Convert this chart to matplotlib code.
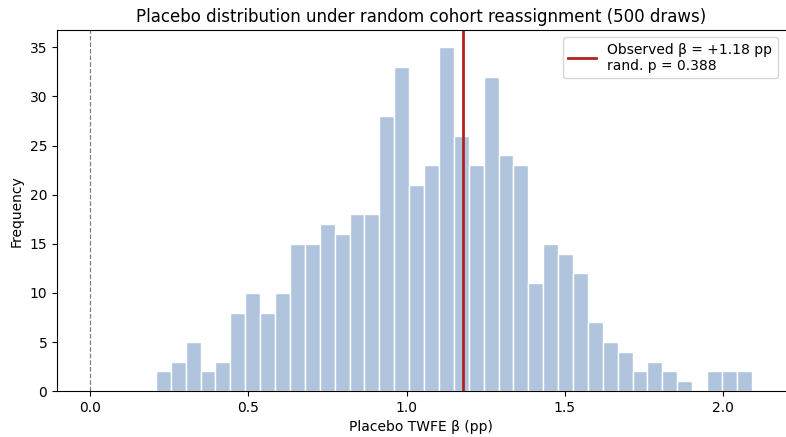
import numpy as np
import matplotlib
matplotlib.use("Agg")
import matplotlib.pyplot as plt

# placebo histogram (40 bins)
bin_lo = 0.208
bin_hi = 2.091
counts = [2, 3, 5, 2, 3, 8, 10, 8, 10, 15,
          15, 17, 16, 18, 18, 28, 33, 21, 23, 35,
          26, 23, 32, 24, 23, 11, 15, 14, 12, 7,
          5, 4, 2, 3, 2, 1, 0, 2, 2, 2]
observed_beta = 1.18
rand_p = 0.388

edges = np.linspace(bin_lo, bin_hi, len(counts) + 1)
centers = (edges[:-1] + edges[1:]) / 2

fig = plt.figure(figsize=(7.86, 4.37), dpi=100)
ax = fig.add_axes([0.0725, 0.105, 0.926, 0.826])

ax.hist(centers, bins=edges, weights=counts, color="#b0c4de",
        edgecolor="white", linewidth=1.0)
ax.axvline(0, color="grey", linestyle="--", linewidth=0.9)
ax.axvline(observed_beta, color="#b22222", linewidth=2.0,
           label=f"Observed β = +{observed_beta:.2f} pp\nrand. p = {rand_p:.3f}")

ax.set_title("Placebo distribution under random cohort reassignment (500 draws)",
             fontsize=12)
ax.set_xlabel("Placebo TWFE β (pp)")
ax.set_ylabel("Frequency")
ax.spines["right"].set_visible(False)
ax.legend(loc="upper right", fontsize=10)

fig.savefig("out.png", dpi=100)
